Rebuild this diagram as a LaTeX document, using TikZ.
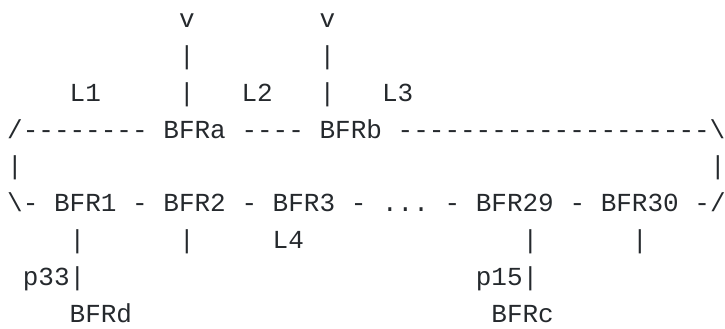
\documentclass[tikz,border=0pt]{standalone}
\usepackage{fontspec}
\setmonofont{Liberation Mono}
\usepackage{tikz}
\definecolor{ink}{HTML}{25292D}

\begin{document}
\begin{tikzpicture}[
    x=15.62bp,y=-36.85bp,
    tok/.style={font=\ttfamily\fontsize{26bp}{30bp}\selectfont,text=ink,
                anchor=base west,inner sep=0pt,outer sep=0pt}
  ]
    \useasboundingbox (-7.2bp,27.5bp) rectangle (717.8bp,-301.5bp);
    % entry points above BFRa and BFRb
    \node[tok] (inA) at (11,0) {v};
    \node[tok] (inB) at (20,0) {v};
    \node[tok] (inAbar1) at (11,1) {|};
    \node[tok] (inBbar1) at (20,1) {|};
    \node[tok] (L1) at (4,2) {L1};
    \node[tok] (inAbar2) at (11,2) {|};
    \node[tok] (L2) at (15,2) {L2};
    \node[tok] (inBbar2) at (20,2) {|};
    \node[tok] (L3) at (24,2) {L3};
    % upper half of the ring
    \node[tok] (topL) at (0,3) {/--------};
    \node[tok] (BFRa) at (10,3) {BFRa};
    \node[tok] (ab) at (15,3) {----};
    \node[tok] (BFRb) at (20,3) {BFRb};
    \node[tok] (topR) at (25,3) {--------------------\textbackslash};
    \node[tok] (sideL) at (0,4) {|};
    \node[tok] (sideR) at (45,4) {|};
    % lower half of the ring
    \node[tok] (botL) at (0,5) {\textbackslash-};
    \node[tok] (BFR1) at (3,5) {BFR1};
    \node[tok] (d12) at (8,5) {-};
    \node[tok] (BFR2) at (10,5) {BFR2};
    \node[tok] (d23) at (15,5) {-};
    \node[tok] (BFR3) at (17,5) {BFR3};
    \node[tok] (d3x) at (22,5) {-};
    \node[tok] (dots) at (24,5) {...};
    \node[tok] (dx29) at (28,5) {-};
    \node[tok] (BFR29) at (30,5) {BFR29};
    \node[tok] (d2930) at (36,5) {-};
    \node[tok] (BFR30) at (38,5) {BFR30};
    \node[tok] (botR) at (44,5) {-/};
    % stubs below the ring
    \node[tok] (bar1) at (4,6) {|};
    \node[tok] (bar2) at (11,6) {|};
    \node[tok] (L4) at (17,6) {L4};
    \node[tok] (bar29) at (33,6) {|};
    \node[tok] (bar30) at (40,6) {|};
    \node[tok] (p33) at (1,7) {p33|};
    \node[tok] (p15) at (30,7) {p15|};
    \node[tok] (BFRd) at (4,8) {BFRd};
    \node[tok] (BFRc) at (31,8) {BFRc};
\end{tikzpicture}
\end{document}
